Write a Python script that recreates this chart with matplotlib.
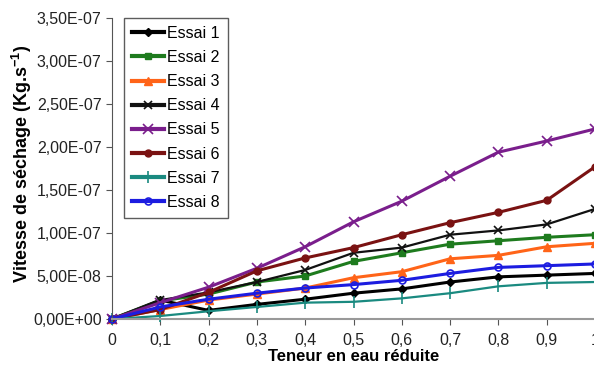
import matplotlib
matplotlib.use("Agg")
import matplotlib.pyplot as plt
from matplotlib.ticker import FuncFormatter

plt.rcParams['font.family'] = ['Liberation Sans', 'DejaVu Sans']
plt.rcParams['mathtext.fontset'] = 'custom'
plt.rcParams['mathtext.rm'] = 'Liberation Sans'
plt.rcParams['mathtext.bf'] = 'Liberation Sans:bold'

x = [0, 0.1, 0.2, 0.3, 0.4, 0.5, 0.6, 0.7, 0.8, 0.9, 1.0]
labels = ["Essai 1", "Essai 2", "Essai 3", "Essai 4", "Essai 5", "Essai 6", "Essai 7", "Essai 8"]

essai1 = [0, 2.2e-8, 1.0e-8, 1.7e-8, 2.3e-8, 3.0e-8, 3.5e-8, 4.3e-8, 4.9e-8, 5.1e-8, 5.3e-8]
essai2 = [0, 2.1e-8, 2.9e-8, 4.3e-8, 5.0e-8, 6.7e-8, 7.7e-8, 8.7e-8, 9.1e-8, 9.5e-8, 9.8e-8]
essai3 = [0, 1.1e-8, 2.2e-8, 2.9e-8, 3.6e-8, 4.8e-8, 5.5e-8, 7.0e-8, 7.4e-8, 8.4e-8, 8.8e-8]
essai4 = [0, 2.2e-8, 3.1e-8, 4.3e-8, 5.7e-8, 7.7e-8, 8.3e-8, 9.8e-8, 1.03e-7, 1.10e-7, 1.28e-7]
essai5 = [0, 1.9e-8, 3.7e-8, 5.9e-8, 8.4e-8, 1.13e-7, 1.37e-7, 1.66e-7, 1.94e-7, 2.07e-7, 2.21e-7]
essai6 = [0, 1.1e-8, 3.1e-8, 5.6e-8, 7.1e-8, 8.3e-8, 9.8e-8, 1.12e-7, 1.24e-7, 1.38e-7, 1.77e-7]
essai7 = [0, 0.35e-8, 0.9e-8, 1.4e-8, 1.9e-8, 2.0e-8, 2.4e-8, 3.0e-8, 3.8e-8, 4.2e-8, 4.3e-8]
essai8 = [0, 1.4e-8, 2.3e-8, 3.0e-8, 3.6e-8, 4.0e-8, 4.5e-8, 5.3e-8, 6.0e-8, 6.2e-8, 6.4e-8]

yticks = [0, 5e-8, 1e-7, 1.5e-7, 2e-7, 2.5e-7, 3e-7, 3.5e-7]
xticks = [0, 0.1, 0.2, 0.3, 0.4, 0.5, 0.6, 0.7, 0.8, 0.9, 1.0]

series = [essai1, essai2, essai3, essai4, essai5, essai6, essai7, essai8]
styles = [
    dict(color="#000000", marker="D", ms=4, lw=2.2, mfc="#000000"),
    dict(color="#1E7B1E", marker="s", ms=5, lw=2.2, mfc="#1E7B1E"),
    dict(color="#FF6418", marker="^", ms=6, lw=2.2, mfc="#FF6418"),
    dict(color="#111111", marker="x", ms=6, lw=1.6, mew=1.2),
    dict(color="#7A1E8C", marker="x", ms=7, lw=2.2, mew=1.2),
    dict(color="#7A1212", marker="o", ms=5, lw=2.2, mfc="#7A1212"),
    dict(color="#1A8A80", marker="|", ms=8, lw=1.6, mew=1.2),
    dict(color="#1C1CE0", marker="o", ms=5, lw=2.2, mfc="none", mew=1.2),
]

fig = plt.figure(figsize=(5.94, 3.74), dpi=100)
ax = fig.add_axes([112/594, 1-319/374, (595-112)/594, (319-18)/374])

for y, lab, st in zip(series, labels, styles):
    ax.plot(x, y, label=lab, clip_on=False, **st)

ax.set_xlim(0, 1)
ax.set_ylim(0, 3.5e-7)
ax.set_xticks(xticks)
ax.set_yticks(yticks)
ax.xaxis.set_major_formatter(FuncFormatter(lambda v, p: ("%g" % round(v, 1)).replace(".", ",")))

def yfmt(v, p):
    s = "%.2E" % v
    return s.replace(".", ",")
ax.yaxis.set_major_formatter(FuncFormatter(yfmt))

for s in ["top", "right"]:
    ax.spines[s].set_visible(False)
ax.spines["left"].set_color("#555555")
ax.spines["bottom"].set_color("#999999")
ax.spines["bottom"].set_linewidth(1.5)
ax.tick_params(axis="both", direction="out", length=4, colors="#555555", labelcolor="#222222", labelsize=11.5)
ax.tick_params(axis="x", pad=6)

ax.set_xlabel("Teneur en eau réduite", fontsize=12, fontweight="bold", labelpad=1)
ax.set_ylabel("Vitesse de séchage (Kg.s$^{\\mathbf{-1}}$)", fontsize=13, fontweight="bold")
ax.yaxis.set_label_coords(-0.162, 0.515)

leg = ax.legend(loc="upper left", bbox_to_anchor=(0.025, 1.0), fontsize=11.5, frameon=True,
                fancybox=False, edgecolor="#333333", handlelength=2.0, labelspacing=0.57,
                borderpad=0.5, handletextpad=0.2, borderaxespad=0)
leg.get_frame().set_linewidth(1.0)
for h in leg.get_lines():
    h.set_linewidth(3)

fig.savefig("out.png", dpi=100)
